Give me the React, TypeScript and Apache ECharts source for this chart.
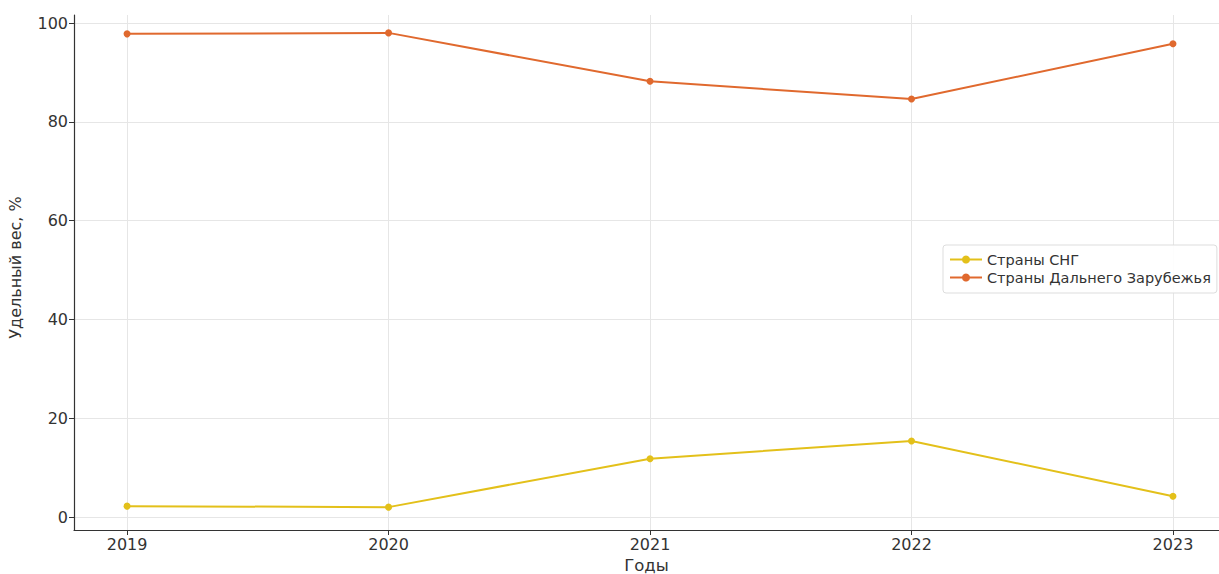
import React, { useEffect, useRef } from "react";
import * as echarts from "echarts";

const years = [2019, 2020, 2021, 2022, 2023];
const cisShare = [2.2, 2.0, 11.8, 15.4, 4.2];
const farAbroadShare = [97.8, 98.0, 88.2, 84.6, 95.8];
const yTicks = [0, 20, 40, 60, 80, 100];
const seriesNames = ["Страны СНГ", "Страны Дальнего Зарубежья"];

export default function App() {
  const ref = useRef<HTMLDivElement>(null);
  useEffect(() => {
    if (!ref.current) return;
    const chart = echarts.init(ref.current, undefined, { renderer: "svg" });
    const font = "DejaVu Sans";
    const gridLine = { show: true, lineStyle: { color: "#e6e6e6", width: 1 } };
    chart.setOption({
      animation: false,
      backgroundColor: "#ffffff",
      textStyle: { fontFamily: font },
      grid: { left: 74, right: 0, top: 15, bottom: 44, outerBoundsMode: "none", containLabel: false },
      legend: {
        orient: "vertical",
        left: 943,
        top: 245,
        itemGap: 3,
        itemWidth: 32,
        itemHeight: 10,
        padding: [7, 6, 8, 6],
        borderColor: "#dddddd",
        borderWidth: 1,
        borderRadius: 3,
        backgroundColor: "rgba(255,255,255,0.9)",
        textStyle: { fontFamily: font, fontSize: 14.5, color: "#333" },
        data: seriesNames,
      },
      xAxis: {
        type: "value",
        min: 2018.797,
        max: 2023.176,
        name: "Годы",
        nameLocation: "middle",
        nameGap: 27,
        nameTextStyle: { fontFamily: font, fontSize: 16.5, color: "#333" },
        axisLine: { show: true, onZero: false, lineStyle: { color: "#333", width: 1.2 } },
        axisTick: { show: true, customValues: years, length: 5, lineStyle: { color: "#333" } },
        axisLabel: {
          customValues: years,
          fontFamily: font,
          fontSize: 16,
          color: "#333",
          margin: 6,
          formatter: (v: number) => String(Math.round(v)),
        },
        splitLine: gridLine,
      },
      yAxis: {
        type: "value",
        min: -2.63,
        max: 101.62,
        name: "Удельный вес, %",
        nameLocation: "middle",
        nameGap: 51,
        nameRotate: 90,
        nameTextStyle: { fontFamily: font, fontSize: 16, color: "#333", padding: [0, 0, 0, 10] },
        axisLine: { show: true, lineStyle: { color: "#333", width: 1.2 } },
        axisTick: { show: true, customValues: yTicks, length: 5, lineStyle: { color: "#333" } },
        axisLabel: {
          customValues: yTicks,
          fontFamily: font,
          fontSize: 16,
          color: "#333",
          margin: 6,
        },
        splitLine: gridLine,
      },
      series: [
        {
          name: seriesNames[0],
          type: "line",
          data: years.map((y, i) => [y, cisShare[i]]),
          color: "#E3C01A",
          lineStyle: { width: 2, color: "#E3C01A" },
          itemStyle: { color: "#E3C01A" },
          symbol: "circle",
          symbolSize: 7,
        },
        {
          name: seriesNames[1],
          type: "line",
          data: years.map((y, i) => [y, farAbroadShare[i]]),
          color: "#E0692E",
          lineStyle: { width: 2, color: "#E0692E" },
          itemStyle: { color: "#E0692E" },
          symbol: "circle",
          symbolSize: 7,
        },
      ],
    });
    return () => chart.dispose();
  }, []);
  return (
    <div
      ref={ref}
      style={{ position: "fixed", left: 0, top: 0, width: 1219, height: 574 }}
    />
  );
}
